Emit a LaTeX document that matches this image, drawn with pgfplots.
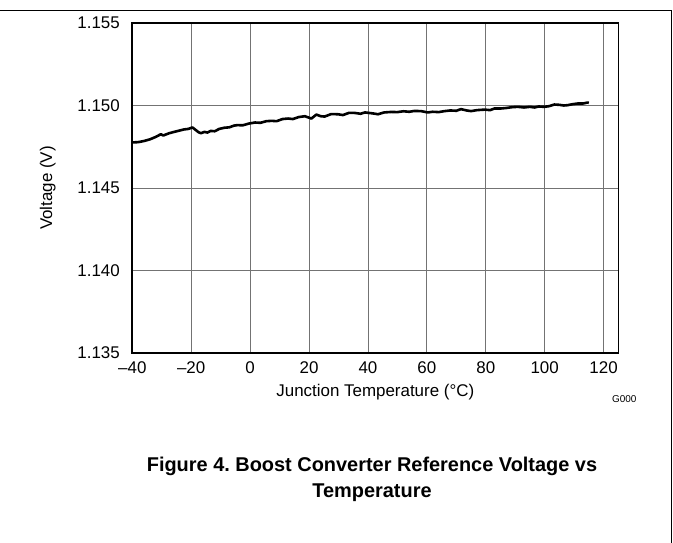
\documentclass[border=0pt]{standalone}
\usepackage{pgfplots}
\pgfplotsset{compat=1.18}
\usepackage{fontspec}
\setmainfont{Liberation Sans}
\frenchspacing
\begin{document}
\begin{tikzpicture}
\path[use as bounding box] (0,0) rectangle (673bp,-543bp);
\draw[line width=0.9bp] (0,-10.7bp) -- (671.6bp,-10.7bp) -- (671.6bp,-543bp);
\begin{axis}[
  at={(132.3bp,-353bp)}, anchor=south west,
  scale only axis, width=486bp, height=330bp,
  xmin=-40, xmax=125, ymin=1.135, ymax=1.155,
  xtick={-40,-20,0,20,40,60,80,100,120},
  xticklabels={–40,–20,0,20,40,60,80,100,120},
  ytick={1.135,1.140,1.145,1.150,1.155},
  yticklabels={1.135,1.140,1.145,1.150,1.155},
  major tick length=0pt,
  grid=major,
  grid style={line width=0.8bp, color=black!55},
  axis line style={line width=1.6bp},
  tick label style={font=\fontsize{17}{20}\selectfont},
  xticklabel style={yshift=-5bp},
  yticklabel style={xshift=-9bp},
  label style={font=\fontsize{17}{20}\selectfont},
  xlabel={Junction Temperature (°C)},
  ylabel={Voltage (V)},
  xlabel style={yshift=-4bp},
  ylabel style={yshift=15bp},
  clip=true,
]
\addplot[black, line width=2.6bp, line join=round] coordinates {
(-40,1.14776) (-38,1.14778) (-36,1.14785) (-34,1.14795) (-32,1.14810)
(-30.3,1.14826) (-29.5,1.14818) (-27.5,1.14832) (-25.8,1.14840) (-24,1.14848)
(-22.4,1.14855) (-21,1.14858) (-19.6,1.14867) (-18.5,1.14852) (-17.5,1.14838)
(-16.7,1.14832) (-15.5,1.14840) (-14.5,1.14836) (-13.4,1.14846) (-12,1.14844)
(-10.5,1.14858) (-8.8,1.14865) (-7,1.14868) (-5.5,1.14878) (-4.3,1.14881)
(-2.5,1.14880) (-0.3,1.14891) (1.7,1.14897) (3.5,1.14895) (5.5,1.14905)
(7.3,1.14907) (9,1.14905) (11,1.14918) (12.9,1.14921) (14.5,1.14918)
(16.5,1.14930) (18.6,1.14935) (20.8,1.14921) (22.5,1.14945) (24,1.14935)
(25.3,1.14933) (27.5,1.14948) (29.8,1.14947) (31.5,1.14942) (33.5,1.14955)
(35.5,1.14955) (37.5,1.14950) (39,1.14958) (41.7,1.14952) (43.4,1.14947)
(45.5,1.14958) (47.9,1.14961) (50,1.14960) (52,1.14965) (54,1.14962)
(55.8,1.14967) (58,1.14966) (60.3,1.14958) (62,1.14962) (64,1.14960)
(66,1.14966) (68,1.14970) (70,1.14968) (71.6,1.14978) (73.5,1.14970)
(75,1.14966) (77,1.14972) (79.6,1.14975) (81.5,1.14972) (83,1.14982)
(85.2,1.14982) (87,1.14985) (89,1.14990) (90.9,1.14992) (93,1.14988)
(95,1.14992) (96.5,1.14988) (98,1.14994) (99.9,1.14992) (101.5,1.14996)
(103.3,1.15006) (105,1.15004) (106.5,1.15000) (107.8,1.15002) (109.5,1.15008)
(111.2,1.15012) (113,1.15012) (114.6,1.15018) (115,1.15016)
};
\end{axis}
\node[anchor=base east, font=\fontsize{10}{12}\selectfont] at (640bp,-402bp) {G000};
\node[align=center, font=\fontsize{20}{26}\selectfont\bfseries] at (372bp,-479bp) {Figure 4. Boost Converter Reference Voltage vs\\Temperature};
\end{tikzpicture}
\end{document}
